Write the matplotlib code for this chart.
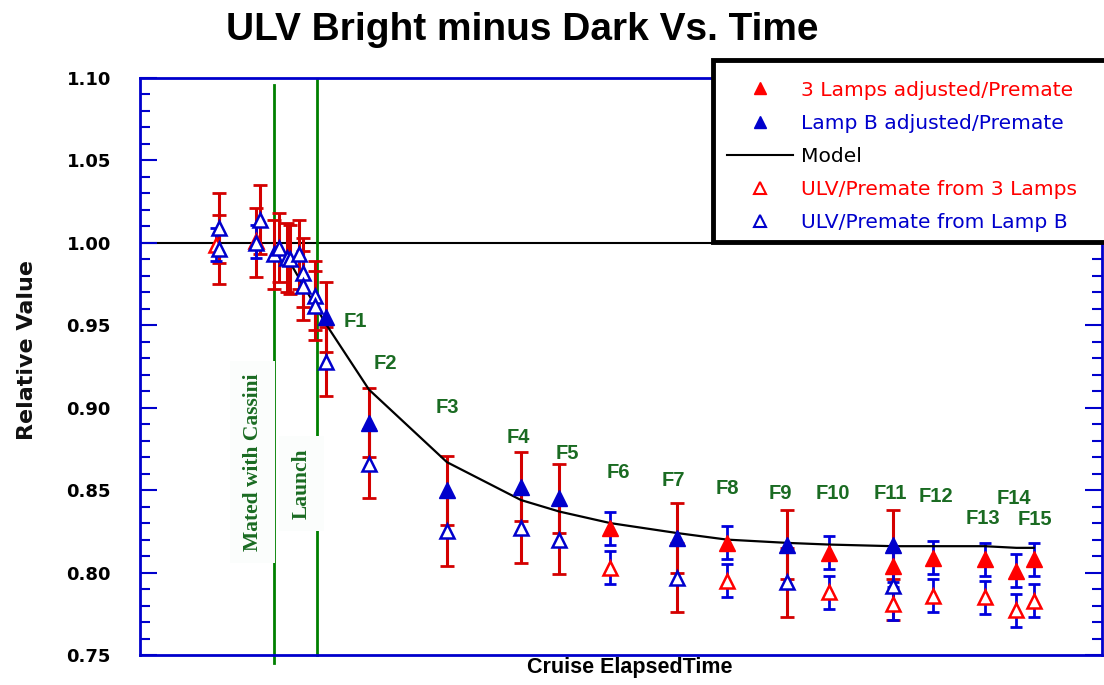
import matplotlib
matplotlib.use("Agg")
import matplotlib.pyplot as plt
from matplotlib.lines import Line2D
from matplotlib.patches import Rectangle
from matplotlib.ticker import MultipleLocator

# ---- data (cruise time in arbitrary units, values relative to premate) ----
# Lamp B adjusted/Premate (filled blue)
lampb_adj_t = [19.3, 23.8, 31.9, 39.6, 43.6, 55.8, 67.3, 78.3]
lampb_adj_v = [0.955, 0.891, 0.850, 0.852, 0.845, 0.821, 0.817, 0.817]
# ULV/Premate from Lamp B (open blue)
lampb_ulv_t = [8.2, 8.2, 12.1, 12.5, 13.9, 14.5, 15.3, 15.6, 16.5, 16.9, 16.9,
               18.2, 18.2, 19.3, 23.8, 31.9, 39.6, 43.6, 55.8, 67.3, 78.3]
lampb_ulv_v = [1.009, 0.996, 1.000, 1.014, 0.993, 0.997, 0.991, 0.990, 0.993, 0.982, 0.974,
               0.968, 0.962, 0.928, 0.866, 0.825, 0.827, 0.820, 0.797, 0.794, 0.792]
# 3 Lamps adjusted/Premate (filled red)
lamps3_adj_t = [48.9, 61.0, 71.6, 78.3, 82.4, 87.8, 91.1, 92.9]
lamps3_adj_v = [0.827, 0.818, 0.812, 0.804, 0.809, 0.808, 0.801, 0.808]
# ULV/Premate from 3 Lamps (open red)
lamps3_ulv_t = [7.9, 12.1, 48.9, 61.0, 71.6, 78.3, 82.4, 87.8, 91.1, 92.9]
lamps3_ulv_v = [0.999, 1.001, 0.803, 0.795, 0.788, 0.781, 0.786, 0.785, 0.777, 0.783]

lampb_err = 0.021
lamps3_err = 0.010

# model
model_t = [14.4, 19.3, 23.8, 31.9, 39.6, 43.6, 48.9, 55.8, 61.0, 67.3, 71.6,
           78.3, 82.4, 87.8, 91.1, 92.9]
model_v = [1.000, 0.951, 0.911, 0.867, 0.844, 0.837, 0.830, 0.824, 0.820, 0.818, 0.817,
           0.816, 0.816, 0.816, 0.815, 0.815]

# flyby labels
flyby_labels = ["F%d" % i for i in range(1, 16)]
flyby_t = [22.4, 25.5, 32.0, 39.3, 44.4, 49.7, 55.4, 61.1, 66.6, 72.0, 78.0, 82.7, 87.6, 90.8, 93.0]
flyby_v = [0.9525, 0.927, 0.900, 0.882, 0.872, 0.861, 0.856, 0.851, 0.848, 0.848, 0.848,
           0.846, 0.833, 0.845, 0.832]

# events
event_labels = ["Mated with Cassini", "Launch"]
event_t = [13.9, 18.4]
event_top = [1.0958, 1.0988]
event_bottom = [0.745, 0.750]
event_text_t = [11.7, 16.8]
event_text_v = [0.867, 0.854]

# colours
RED = "#ff0000"
BLUE = "#0000cc"
RED_BAR = "#d40000"
BLUE_BAR = "#0000dd"
GREEN = "#008000"
LABEL_GREEN = "#1a6b22"

fig = plt.figure(figsize=(11.04, 6.85), dpi=100)
ax = fig.add_axes([140 / 1104, 30 / 685, 962 / 1104, 577 / 685])

# error bars first
ax.errorbar(lampb_ulv_t, lampb_ulv_v, yerr=lampb_err, fmt="none", ecolor=RED_BAR,
            elinewidth=2.2, capsize=5, capthick=2, zorder=2)
ax.errorbar(lampb_adj_t, lampb_adj_v, yerr=lampb_err, fmt="none", ecolor=RED_BAR,
            elinewidth=2.2, capsize=5, capthick=2, zorder=2)
ax.errorbar(lamps3_ulv_t, lamps3_ulv_v, yerr=lamps3_err, fmt="none", ecolor=BLUE_BAR,
            elinewidth=2, capsize=4.5, capthick=2, zorder=2)
ax.errorbar(lamps3_adj_t, lamps3_adj_v, yerr=lamps3_err, fmt="none", ecolor=BLUE_BAR,
            elinewidth=2, capsize=4.5, capthick=2, zorder=2)

# reference line and model
ax.axhline(1.0, color="black", lw=1.5, zorder=1)
ax.plot(model_t, model_v, color="black", lw=1.6, zorder=3)

# markers
ax.plot(lamps3_ulv_t, lamps3_ulv_v, ls="none", marker="^", ms=10.5, mfc="white",
        mec=RED, mew=1.8, zorder=4)
ax.plot(lampb_ulv_t, lampb_ulv_v, ls="none", marker="^", ms=10.5, mfc="white",
        mec=BLUE, mew=1.8, zorder=4)
ax.plot(lamps3_adj_t, lamps3_adj_v, ls="none", marker="^", ms=11, color=RED, zorder=5)
ax.plot(lampb_adj_t, lampb_adj_v, ls="none", marker="^", ms=11, color=BLUE, zorder=5)

# event lines + labels
for t, top, bot in zip(event_t, event_top, event_bottom):
    ax.plot([t, t], [bot, top], color=GREEN, lw=2, clip_on=False, zorder=1)
for lab, t, v in zip(event_labels, event_text_t, event_text_v):
    ax.text(t, v, lab, rotation=90, ha="center", va="center", color=LABEL_GREEN,
            family="Liberation Serif", fontweight="bold", fontsize=15.5, zorder=6,
            bbox=dict(facecolor="#fbfdfc", edgecolor="none", pad=9))

# flyby labels
for lab, t, v in zip(flyby_labels, flyby_t, flyby_v):
    ax.text(t, v, lab, ha="center", va="center", color=LABEL_GREEN,
            family="Liberation Sans", fontweight="bold", fontsize=14.5, zorder=6)

# axes styling
ax.set_xlim(0, 100)
ax.set_ylim(0.75, 1.10)
for s in ax.spines.values():
    s.set_color(BLUE)
    s.set_linewidth(2)
ax.set_xticks([])
ax.yaxis.set_major_locator(MultipleLocator(0.05))
ax.yaxis.set_minor_locator(MultipleLocator(0.01))
ax.yaxis.set_major_formatter(matplotlib.ticker.FormatStrFormatter("%.2f"))
ax.tick_params(axis="y", which="both", direction="in", left=True, right=True,
               color=BLUE, width=1.5)
ax.tick_params(axis="y", which="major", length=12, pad=21)
ax.tick_params(axis="y", which="minor", length=7)
for lbl in ax.get_yticklabels():
    lbl.set_family("DejaVu Sans")
    lbl.set_fontweight("bold")
    lbl.set_fontsize(13)

# titles / labels
fig.text(522 / 1104, 1 - 30 / 685, "ULV Bright minus Dark Vs. Time", ha="center", va="center",
         family="Liberation Sans", fontweight="bold", fontsize=28)
fig.text(27 / 1104, 1 - 350 / 685, "Relative Value", rotation=90, ha="center", va="center",
         family="DejaVu Sans", fontweight="bold", fontsize=16, color="#111111")
fig.text(630 / 1104, 1 - 668 / 685, "Cruise ElapsedTime", ha="center", va="center",
         family="Liberation Sans", fontweight="bold", fontsize=15.5)

# legend box
fig.patches.append(Rectangle((713 / 1104, 1 - 242 / 685), 400 / 1104, 182 / 685,
                             transform=fig.transFigure, facecolor="white",
                             edgecolor="black", lw=3.5, zorder=4))
handles = [
    Line2D([], [], ls="none", marker="^", ms=9, color=RED),
    Line2D([], [], ls="none", marker="^", ms=9, color=BLUE),
    Line2D([], [], color="black", lw=1.5),
    Line2D([], [], ls="none", marker="^", ms=8, mfc="white", mec=RED, mew=1.5),
    Line2D([], [], ls="none", marker="^", ms=8, mfc="white", mec=BLUE, mew=1.5),
]
labels = ["3 Lamps adjusted/Premate", "Lamp B adjusted/Premate", "Model",
          "ULV/Premate from 3 Lamps", "ULV/Premate from Lamp B"]
leg = fig.legend(handles, labels, loc="upper left", bbox_to_anchor=(727 / 1104, 1 - 80.5 / 685),
                 frameon=False, borderpad=0, borderaxespad=0, handlelength=3.25,
                 handletextpad=0.42, labelspacing=0.7,
                 prop={"family": "DejaVu Sans", "size": 14.6},
                 labelcolor=[RED, BLUE, "black", RED, BLUE])
leg.set_zorder(5)

fig.savefig("out.png", dpi=100)
